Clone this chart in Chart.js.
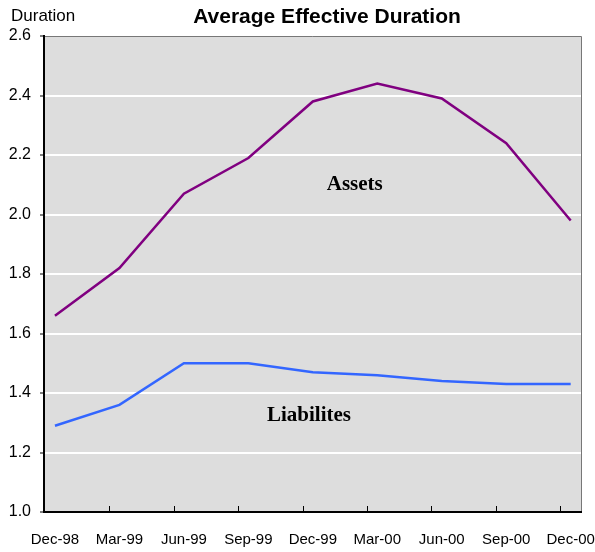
<!DOCTYPE html>
<html>
<head>
<meta charset="utf-8">
<script src="https://cdn.jsdelivr.net/npm/chart.js@4/dist/chart.umd.min.js"></script>
<style>
  html, body { margin: 0; padding: 0; background: #fff; }
  #wrap { width: 595px; height: 552px; }
</style>
</head>
<body>
<div id="wrap"><canvas id="myChart" width="595" height="552"></canvas></div>
<script>
// quarters on the x axis
const quarters = ['Dec-98', 'Mar-99', 'Jun-99', 'Sep-99', 'Dec-99', 'Mar-00', 'Jun-00', 'Sep-00', 'Dec-00'];
// effective duration
const assets = [1.66, 1.82, 2.07, 2.19, 2.38, 2.44, 2.39, 2.24, 1.98];
const liabilities = [1.29, 1.36, 1.50, 1.50, 1.47, 1.46, 1.44, 1.43, 1.43];
const yTicks = [1.0, 1.2, 1.4, 1.6, 1.8, 2.0, 2.2, 2.4, 2.6];

const narrow = "'Liberation Sans Narrow', 'Arial Narrow', 'Liberation Sans', Arial, sans-serif";

const toPoints = arr => arr.map((v, i) => ({ x: i, y: v }));

// gray plot background, frame, inner tick marks, title and labels
const decor = {
  id: 'decor',
  beforeDraw(chart) {
    const { ctx, chartArea: a } = chart;
    ctx.save();
    ctx.fillStyle = '#dddddd';
    ctx.fillRect(a.left, a.top, a.right - a.left, a.bottom - a.top);
    ctx.strokeStyle = '#777777';
    ctx.lineWidth = 1;
    ctx.beginPath();
    ctx.moveTo(a.left, a.top + 0.5);
    ctx.lineTo(a.right + 0.5, a.top + 0.5);
    ctx.lineTo(a.right + 0.5, a.bottom);
    ctx.stroke();
    ctx.restore();
  },
  afterDraw(chart) {
    const { ctx, chartArea: a, scales } = chart;
    ctx.save();
    // x tick marks sit just left of each quarter, pointing up into the plot
    ctx.strokeStyle = '#000';
    ctx.lineWidth = 1;
    for (let i = 1; i < quarters.length; i++) {
      const px = Math.round(scales.x.getPixelForValue(i - 0.16)) + 0.5;
      ctx.beginPath();
      ctx.moveTo(px, a.bottom);
      ctx.lineTo(px, a.bottom - 6);
      ctx.stroke();
    }
    ctx.fillStyle = '#000';
    ctx.textAlign = 'center';
    ctx.textBaseline = 'middle';
    ctx.font = "bold 21px 'Liberation Sans', Arial, sans-serif";
    ctx.fillText('Average Effective Duration', 327, 17);
    ctx.textAlign = 'left';
    ctx.font = '17px ' + narrow;
    ctx.fillText('Duration', 11, 16);
    ctx.textAlign = 'center';
    ctx.font = "bold 21px 'Liberation Serif', 'Times New Roman', serif";
    ctx.fillText('Assets', scales.x.getPixelForValue(4.65), scales.y.getPixelForValue(2.1));
    ctx.fillText('Liabilites', scales.x.getPixelForValue(3.94), scales.y.getPixelForValue(1.325));
    ctx.restore();
  }
};

const ctx = document.getElementById('myChart').getContext('2d');
const myChart = new Chart(ctx, {
  type: 'line',
  data: {
    datasets: [
      {
        label: 'Assets',
        data: toPoints(assets),
        borderColor: '#800080',
        borderWidth: 2.5,
        pointRadius: 0,
        fill: false,
        tension: 0
      },
      {
        label: 'Liabilites',
        data: toPoints(liabilities),
        borderColor: '#3366ff',
        borderWidth: 2.5,
        pointRadius: 0,
        fill: false,
        tension: 0
      }
    ]
  },
  options: {
    responsive: false,
    animation: false,
    layout: { padding: { top: 36, right: 14, left: 0, bottom: 0 } },
    plugins: {
      legend: { display: false },
      tooltip: { enabled: false },
      title: { display: false }
    },
    scales: {
      x: {
        type: 'linear',
        min: -0.17,
        max: 8.16,
        afterBuildTicks(scale) {
          scale.ticks = quarters.map((q, i) => ({ value: i }));
        },
        afterFit(scale) {
          scale.height = 40;
          scale.paddingLeft = 0;
          scale.paddingRight = 0;
        },
        ticks: {
          callback: v => quarters[v],
          color: '#000',
          padding: 19,
          maxRotation: 0,
          autoSkip: false,
          font: { family: narrow, size: 15 }
        },
        grid: { drawOnChartArea: false, drawTicks: false },
        border: { color: '#000', width: 2 }
      },
      y: {
        min: 1.0,
        max: 2.6,
        afterBuildTicks(scale) {
          scale.ticks = yTicks.map(v => ({ value: v }));
        },
        afterFit(scale) {
          scale.width = 44;
          scale.paddingTop = 0;
          scale.paddingBottom = 0;
        },
        ticks: {
          callback: v => v.toFixed(1),
          color: '#000',
          padding: 9,
          font: { family: narrow, size: 16 }
        },
        grid: {
          color: c => (c.tick && (c.tick.value === 1.0 || c.tick.value === 2.6)) ? 'rgba(0,0,0,0)' : '#ffffff',
          lineWidth: 2,
          tickColor: '#000',
          tickLength: 4,
          tickWidth: 1
        },
        border: { color: '#000', width: 2 }
      }
    }
  },
  plugins: [decor]
});
</script>
</body>
</html>
